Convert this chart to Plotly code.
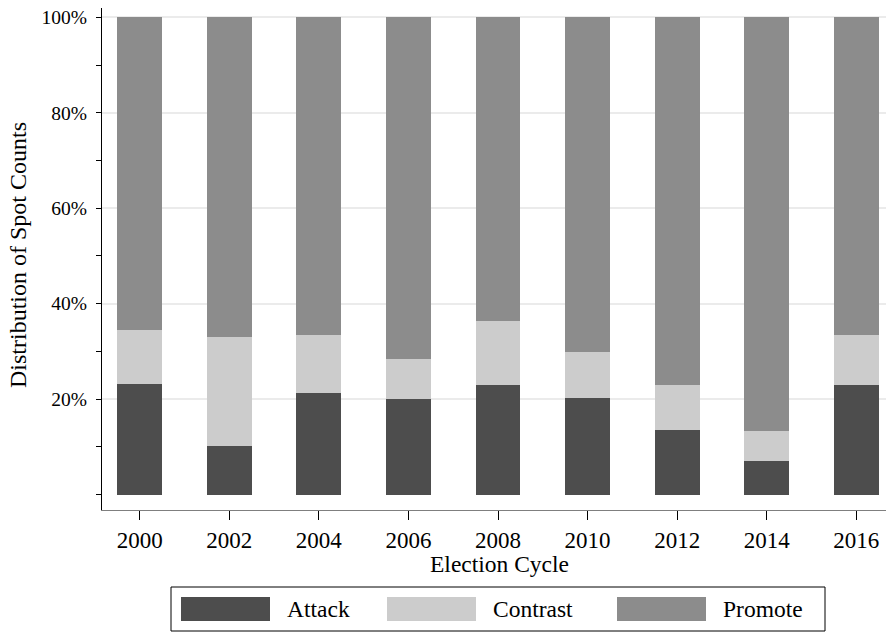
import plotly.graph_objects as go

# ---- data ----
years = ["2000", "2002", "2004", "2006", "2008", "2010", "2012", "2014", "2016"]
attack = [23.2, 10.2, 21.3, 20.0, 23.0, 20.2, 13.5, 7.0, 23.0]
contrast = [11.3, 22.9, 12.1, 8.4, 13.4, 9.7, 9.4, 6.3, 10.4]
promote = [65.5, 66.9, 66.6, 71.6, 63.6, 70.1, 77.1, 86.7, 66.6]
series_names = ["Attack", "Contrast", "Promote"]
series_colors = ["#4d4d4d", "#cccccc", "#8c8c8c"]
y_major = [20, 40, 60, 80, 100]
y_major_text = ["20%", "40%", "60%", "80%", "100%"]
y_minor = [0, 10, 30, 50, 70, 90]

# page has an 8px body margin; figure placed at (8, 8)
OFF = 8
W, H = 894 - OFF, 632 - OFF
ML, MR, MT = 102 - OFF, 0, 0
PLOT_BOTTOM = 510 - OFF
MB = H - PLOT_BOTTOM
PW, PH = W - ML - MR, PLOT_BOTTOM - MT
FONT = "Liberation Serif"

# y scale: 0% at page y 494.5, 100% at page y 17.3
scale = (494.5 - 17.3) / 100.0
y_top = 100 + ((17.3 - OFF) - MT) / scale
y_bot = -(510 - 494.5) / scale


def px(x):
    return (x - OFF - ML) / PW


def py(y):
    return (PLOT_BOTTOM - (y - OFF)) / PH


fig = go.Figure()
for name, vals, col in zip(series_names, [attack, contrast, promote], series_colors):
    fig.add_trace(go.Bar(x=years, y=vals, name=name, marker=dict(color=col, line=dict(width=0)),
                         width=0.5, showlegend=False))

fig.update_layout(
    width=W, height=H, barmode="stack",
    margin=dict(l=ML, r=MR, t=MT, b=MB, pad=0),
    plot_bgcolor="white", paper_bgcolor="white",
    font=dict(family=FONT, color="black"),
    xaxis=dict(type="category", range=[-0.42, 8.42], showline=True, linecolor="#7f7f7f", linewidth=1,
               ticks="outside", ticklen=9, tickcolor="black", tickwidth=1,
               tickfont=dict(size=23, family=FONT), showgrid=False, zeroline=False),
    yaxis=dict(range=[y_bot, y_top], showline=True, linecolor="black", linewidth=1,
               tickmode="array", tickvals=y_major, ticktext=y_major_text,
               ticks="outside", ticklen=5, tickcolor="black", tickwidth=1,
               tickfont=dict(size=19.5, family=FONT), ticklabelstandoff=5,
               ticklabeloverflow="allow",
               showgrid=True, gridcolor="#ebebeb", gridwidth=2, zeroline=False,
               minor=dict(tickmode="array", tickvals=y_minor, ticks="outside", ticklen=5,
                          tickcolor="black", tickwidth=1, showgrid=False)),
)

# axis titles
fig.add_annotation(text="Election Cycle", xref="paper", yref="paper", x=px(499), y=py(564),
                   xanchor="center", yanchor="middle", showarrow=False,
                   font=dict(size=23.5, family=FONT, color="black"))
fig.add_annotation(text="Distribution of Spot Counts", xref="paper", yref="paper", x=px(18), y=py(255),
                   xanchor="center", yanchor="middle", textangle=-90, showarrow=False,
                   font=dict(size=24, family=FONT, color="black"))

# legend (built from the series names/colours)
fig.add_shape(type="rect", xref="paper", yref="paper", x0=px(171), x1=px(825), y0=py(587), y1=py(631),
              line=dict(color="black", width=1), fillcolor="white")
sw_left = [181, 387, 617]
txt_left = [285, 491, 721]
for name, col, sl, tl in zip(series_names, series_colors, sw_left, txt_left):
    fig.add_shape(type="rect", xref="paper", yref="paper", x0=px(sl), x1=px(sl + 89),
                  y0=py(597), y1=py(621), line=dict(width=0), fillcolor=col)
    fig.add_annotation(text=name, xref="paper", yref="paper", x=px(tl), y=py(609),
                       xanchor="left", yanchor="middle", showarrow=False,
                       font=dict(size=23.5, family=FONT, color="black"))

fig.write_html("out.html")
